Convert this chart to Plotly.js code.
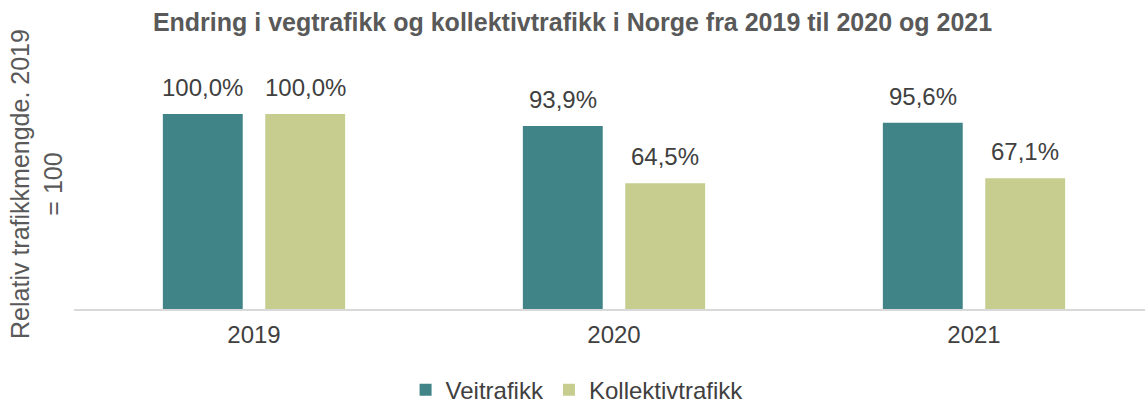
<!DOCTYPE html>
<html>
<head>
<meta charset="utf-8">
<script src="https://cdn.plot.ly/plotly-3.0.1.min.js"></script>
<style>html,body{margin:0;padding:0;background:#fff;}#chart{width:1145px;height:403px;}</style>
</head>
<body>
<div id="chart"></div>
<script>
const years = ["2019", "2020", "2021"];
const veitrafikk = [100.0, 93.9, 95.6];
const kollektivtrafikk = [100.0, 64.5, 67.1];
const seriesNames = ["Veitrafikk", "Kollektivtrafikk"];
const seriesColors = ["#408488", "#c6cd8f"];
const yTitle = "Relativ trafikkmengde. 2019<br>= 100";

const FAMILY = "Liberation Sans, Arial, sans-serif";
const labelFont = {family: FAMILY, size: 24, color: "#404040"};

const allSeries = [veitrafikk, kollektivtrafikk];
const traces = allSeries.map((vals, i) => ({
  type: "bar", name: seriesNames[i], x: years, y: vals,
  marker: {color: seriesColors[i]}, hoverinfo: "skip"
}));

// value labels above each bar (category index on the x axis, shifted to the bar in its group)
const groupShift = [-51.25, 51.25];
const fmt = v => v.toFixed(1).replace(".", ",") + "%";
const annotations = [];
allSeries.forEach((vals, i) => {
  vals.forEach((v, j) => {
    annotations.push({x: j, y: v, xref: "x", yref: "y", text: fmt(v),
      showarrow: false, xanchor: "center", yanchor: "bottom",
      xshift: groupShift[i], yshift: 11, font: labelFont});
  });
});
// y axis title
annotations.push({xref: "paper", yref: "paper", x: -0.0345, y: 0.465,
  xanchor: "center", yanchor: "middle", textangle: -90, showarrow: false,
  text: yTitle, align: "center",
  font: {family: FAMILY, size: 25, color: "#595959"}});

const layout = {
  width: 1145, height: 403,
  margin: {l: 74, r: 0, t: 40, b: 94},
  paper_bgcolor: "#ffffff", plot_bgcolor: "#ffffff",
  separators: ",.",
  barmode: "group", bargap: 0.431, bargroupgap: 0.22,
  title: {text: "<b>Endring i vegtrafikk og kollektivtrafikk i Norge fra 2019 til 2020 og 2021</b>",
          x: 0.5, xanchor: "center", y: 0.945, yanchor: "middle",
          font: {family: FAMILY, size: 25, color: "#595959"}},
  xaxis: {type: "category", range: [-0.5, 2.475], showgrid: false, zeroline: false,
          showline: true, linecolor: "#d9d9d9", linewidth: 2, ticks: "",
          ticklabelstandoff: 3, automargin: false,
          tickfont: {family: FAMILY, size: 24, color: "#404040"}},
  yaxis: {range: [0, 138], showgrid: false, zeroline: false, showline: false,
          showticklabels: false, ticks: "", automargin: false},
  annotations: annotations,
  showlegend: true,
  legend: {orientation: "h", xref: "container", yref: "container",
           x: 0.504, xanchor: "center", y: 0.032, yanchor: "middle",
           font: {family: FAMILY, size: 24, color: "#404040"},
           traceorder: "normal"}
};

Plotly.newPlot("chart", traces, layout, {displayModeBar: false, staticPlot: true});
</script>
</body>
</html>
